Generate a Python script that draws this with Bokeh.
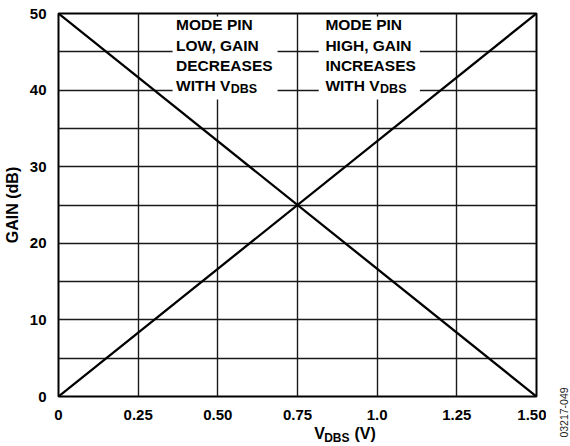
from math import pi
from bokeh.plotting import figure
from bokeh.models import Range1d, FixedTicker, Label, BoxAnnotation
from bokeh.layouts import row, column
from bokeh.embed import file_html
from bokeh.resources import INLINE

# ---- data ----
vdbs = [0.0, 1.5]
gain_mode_high = [0.0, 50.0]   # gain increases with VDBS
gain_mode_low = [50.0, 0.0]    # gain decreases with VDBS
x_ticks = [0, 0.25, 0.5, 0.75, 1.0, 1.25, 1.5]
x_tick_labels = ["0", "0.25", "0.50", "0.75", "1.0", "1.25", "1.50"]
y_ticks = [0, 10, 20, 30, 40, 50]
y_grid = [0, 5, 10, 15, 20, 25, 30, 35, 40, 45, 50]
note_low = ["MODE PIN", "LOW, GAIN", "DECREASES", "WITH V"]
note_high = ["MODE PIN", "HIGH, GAIN", "INCREASES", "WITH V"]
y_title = "GAIN (dB)"
x_title = ["V", "DBS", "(V)"]
fig_code = "03217-049"

FONT = "Liberation Sans"

p = figure(width=546, height=422, x_range=Range1d(0, 1.5), y_range=Range1d(0, 50),
           output_backend="svg", toolbar_location=None,
           min_border_left=56, min_border_right=10, min_border_top=13, min_border_bottom=25)
p.background_fill_color = "white"
p.border_fill_color = "white"
p.outline_line_color = "black"
p.outline_line_width = 2

p.xaxis.ticker = FixedTicker(ticks=x_ticks)
p.xaxis.major_label_overrides = {t: l for t, l in zip(x_ticks, x_tick_labels)}
p.yaxis.ticker = FixedTicker(ticks=y_ticks)
for ax in (p.xaxis[0], p.yaxis[0]):
    ax.axis_line_color = None
    ax.major_tick_line_color = None
    ax.minor_tick_line_color = None
    ax.major_label_text_font = FONT
    ax.major_label_text_font_style = "bold"
    ax.major_label_text_font_size = "15px"
    ax.major_label_text_color = "black"
p.xaxis.major_label_standoff = 7
p.yaxis.major_label_standoff = 6
p.yaxis.axis_label = y_title
p.yaxis.axis_label_text_font = FONT
p.yaxis.axis_label_text_font_style = "bold"
p.yaxis.axis_label_text_font_size = "16px"
p.yaxis.axis_label_text_color = "black"
p.yaxis.axis_label_standoff = 6

p.xgrid.ticker = FixedTicker(ticks=x_ticks)
p.ygrid.ticker = FixedTicker(ticks=y_grid)
for g in (p.xgrid[0], p.ygrid[0]):
    g.grid_line_color = "#1a1a1a"
    g.grid_line_width = 1.4

p.line(vdbs, gain_mode_high, line_color="black", line_width=2.3)
p.line(vdbs, gain_mode_low, line_color="black", line_width=2.3)

# white boxes behind the notes
p.add_layout(BoxAnnotation(left=0.358, right=0.6875, bottom=38.76, top=49.61,
                           fill_color="white", fill_alpha=1, line_color=None))
p.add_layout(BoxAnnotation(left=0.8166, right=1.134, bottom=38.76, top=49.61,
                           fill_color="white", fill_alpha=1, line_color=None))


def lab(fig, x, y, text, size="15.5px", style="bold", color="black", **kw):
    fig.add_layout(Label(x=x, y=y, text=text, text_font=FONT, text_font_style=style,
                         text_font_size=size, text_color=color, **kw))


ys = [47.43, 44.75, 42.15, 39.54]
for xx, lines in ((0.369, note_low), (0.8375, note_high)):
    for yy, t in zip(ys, lines):
        lab(p, xx, yy, t)
    lab(p, xx, 39.19, "DBS", size="12.5px", x_offset=54.7)


def blank(w, h):
    f = figure(width=w, height=h, x_range=Range1d(0, w), y_range=Range1d(0, h),
               x_axis_type=None, y_axis_type=None, output_backend="svg",
               toolbar_location=None, min_border=0)
    f.outline_line_color = None
    f.background_fill_color = "white"
    f.border_fill_color = "white"
    f.xgrid.visible = False
    f.ygrid.visible = False
    return f


# x axis title (with subscript) below the plot
xt = blank(546, 24)
lab(xt, 292, 4.3, x_title[0], size="16px")
lab(xt, 303.5, 2.0, x_title[1], size="12px")
lab(xt, 338, 4.3, x_title[2], size="16px")

# figure code at the right edge
wm = blank(24, 446)
lab(wm, 21.3, 34, fig_code, size="10.5px", style="normal", color="#222222",
    angle=pi / 2, text_align="center")

layout = row(column(p, xt), wm)
open("out.html", "w").write(file_html(layout, INLINE))
